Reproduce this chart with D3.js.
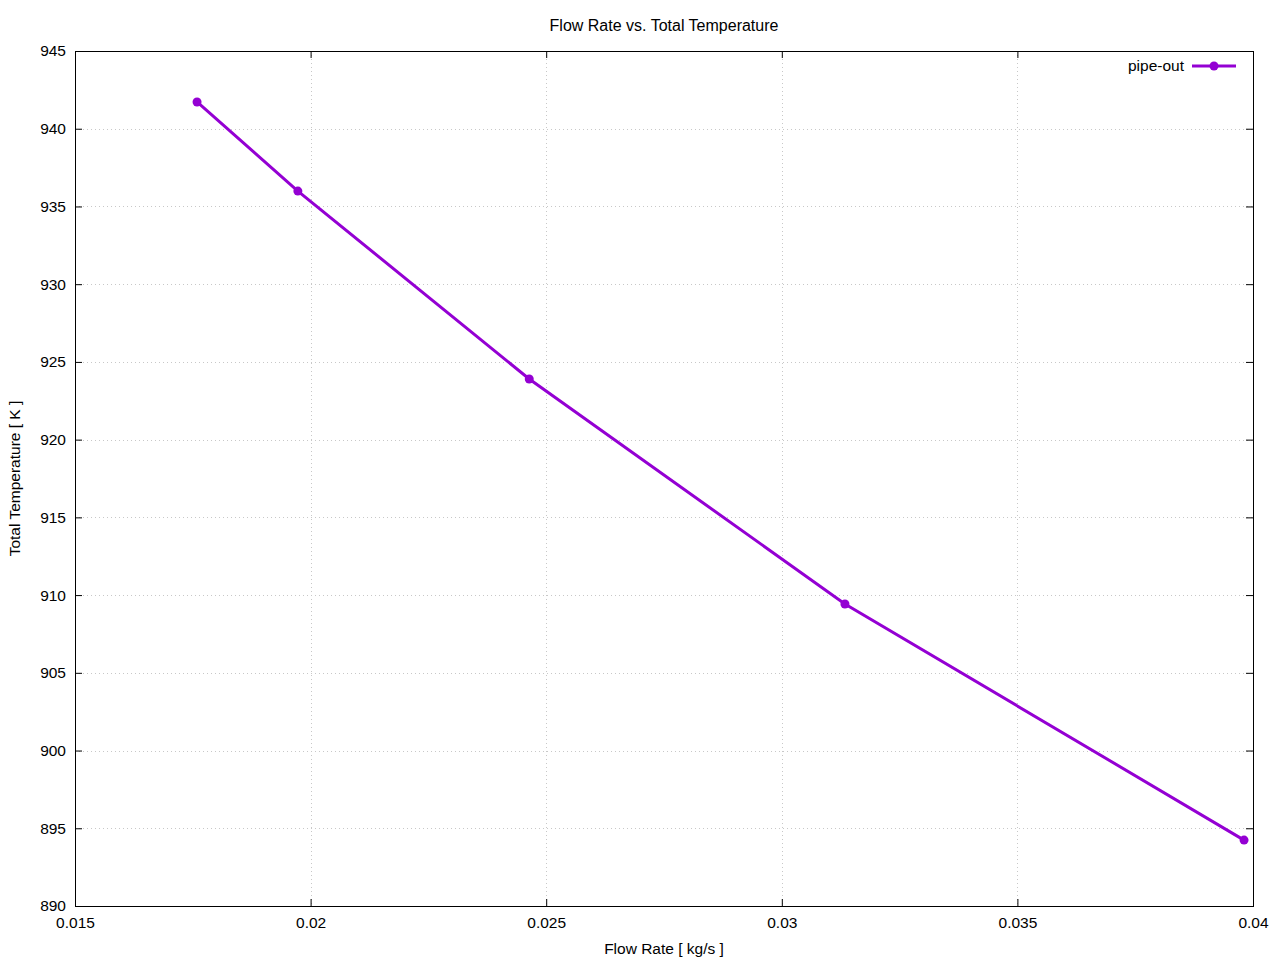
<!DOCTYPE html>
<html>
<head>
<meta charset="utf-8">
<script src="https://cdn.jsdelivr.net/npm/d3@7"></script>
<style>
  body { margin: 0; background: #fff; }
  text { font-family: "Liberation Sans", Arial, sans-serif; font-size: 15.5px; fill: #000; }
</style>
</head>
<body>
<script>
// data
var flowRate = [0.01759, 0.01973, 0.02464, 0.03134, 0.03981];
var totalTemp = [941.72, 935.99, 923.90, 909.43, 894.24];
var xTicks = [0.015, 0.02, 0.025, 0.03, 0.035, 0.04];
var yTicks = [890, 895, 900, 905, 910, 915, 920, 925, 930, 935, 940, 945];
var seriesName = "pipe-out";

var W = 1280, H = 960;
var margin = {top: 51, right: 27, bottom: 54, left: 75};
var width = W - margin.left - margin.right;
var height = H - margin.top - margin.bottom;
var purple = "#9400d3";

var data = flowRate.map(function(d, i) { return {x: d, y: totalTemp[i]}; });

var xScale = d3.scaleLinear().domain([0.015, 0.04]).range([0, width]);
var yScale = d3.scaleLinear().domain([890, 945]).range([height, 0]);

var svg = d3.select("body").append("svg")
    .attr("width", W)
    .attr("height", H);
var g = svg.append("g")
    .attr("transform", "translate(" + margin.left + "," + margin.top + ")");

// grid
g.append("g").attr("class", "grid")
  .selectAll("line.gx")
  .data(xTicks.slice(1, -1))
  .enter().append("line")
    .attr("x1", function(d) { return Math.round(xScale(d)) + 0.5; })
    .attr("x2", function(d) { return Math.round(xScale(d)) + 0.5; })
    .attr("y1", 0).attr("y2", height)
    .attr("stroke", "#c8c8c8").attr("stroke-dasharray", "1,3");
g.append("g").attr("class", "grid")
  .selectAll("line.gy")
  .data(yTicks.slice(1, -1))
  .enter().append("line")
    .attr("y1", function(d) { return Math.round(yScale(d)) + 0.5; })
    .attr("y2", function(d) { return Math.round(yScale(d)) + 0.5; })
    .attr("x1", 0).attr("x2", width)
    .attr("stroke", "#c8c8c8").attr("stroke-dasharray", "1,3");

// axes, ticks inward, mirrored on top / right
var fmt = function(d) { return String(+d.toFixed(4)); };
var gx = g.append("g")
    .attr("transform", "translate(0," + height + ")")
    .call(d3.axisBottom(xScale).tickValues(xTicks).tickSize(-7).tickPadding(11).tickFormat(fmt));
var gy = g.append("g")
    .call(d3.axisLeft(yScale).tickValues(yTicks).tickSize(-7).tickPadding(17).tickFormat(fmt));
g.append("g")
    .call(d3.axisTop(xScale).tickValues(xTicks).tickSize(-7).tickFormat(""));
g.append("g")
    .attr("transform", "translate(" + width + ",0)")
    .call(d3.axisRight(yScale).tickValues(yTicks).tickSize(-7).tickFormat(""));
g.selectAll(".domain").remove();
g.selectAll(".tick line").attr("stroke", "#000");
g.selectAll(".tick text").style("font-size", "15.5px").attr("fill", "#000");
gy.selectAll(".tick text").attr("x", -9);

g.append("rect")
    .attr("x", 0.5).attr("y", 0.5)
    .attr("width", width).attr("height", height)
    .attr("fill", "none").attr("stroke", "#000");

// series
var line = d3.line().x(function(d) { return xScale(d.x); }).y(function(d) { return yScale(d.y); });
g.append("path")
    .datum(data)
    .attr("d", line)
    .attr("fill", "none")
    .attr("stroke", purple)
    .attr("stroke-width", 3);
g.selectAll(".dot")
    .data(data)
  .enter().append("circle")
    .attr("class", "dot")
    .attr("cx", function(d) { return xScale(d.x); })
    .attr("cy", function(d) { return yScale(d.y); })
    .attr("r", 4.5)
    .attr("fill", purple);

// legend
var lg = svg.append("g").attr("transform", "translate(1192,66)");
lg.append("line").attr("x1", 0).attr("x2", 44).attr("stroke", purple).attr("stroke-width", 3);
lg.append("circle").attr("cx", 22).attr("r", 4.5).attr("fill", purple);
lg.append("text").attr("x", -8).attr("dy", "0.35em").attr("text-anchor", "end").text(seriesName);

// titles
svg.append("text")
    .attr("x", margin.left + width / 2).attr("y", 31)
    .attr("text-anchor", "middle")
    .style("font-size", "16px")
    .text("Flow Rate vs. Total Temperature");
svg.append("text")
    .attr("x", margin.left + width / 2).attr("y", 954)
    .attr("text-anchor", "middle")
    .text("Flow Rate [ kg/s ]");
svg.append("text")
    .attr("transform", "translate(20," + (margin.top + height / 2) + ") rotate(-90)")
    .attr("text-anchor", "middle")
    .text("Total Temperature [ K ]");
</script>
</body>
</html>
